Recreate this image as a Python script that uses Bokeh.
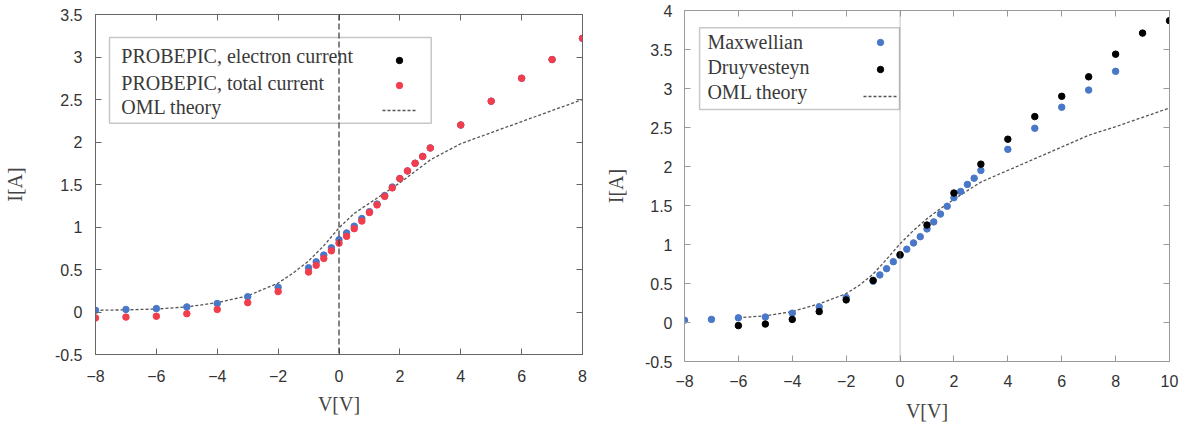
from bokeh.plotting import figure
from bokeh.models import (Range1d, FixedTicker, LinearAxis, Span, Label, BoxAnnotation,
                          Legend, LegendItem)
from bokeh.layouts import row
from bokeh.core.properties import value
from bokeh.embed import file_html
from bokeh.resources import INLINE

# ---------------- data: left panel (PROBEPIC) ----------------
left_v = [-8, -7, -6, -5, -4, -3, -2, -1, -0.75, -0.5, -0.25, 0, 0.25, 0.5, 0.75,
          1, 1.25, 1.5, 1.75, 2, 2.25, 2.5, 2.75, 3, 4, 5, 6, 7, 8]
left_electron = [0.02, 0.03, 0.04, 0.06, 0.10, 0.18, 0.29, 0.52, 0.59, 0.67, 0.755, 0.85, 0.93, 1.01, 1.10,
                 1.18, 1.27, 1.37, 1.47, 1.57, 1.66, 1.75, 1.83, 1.93, 2.20, 2.48, 2.75, 2.97, 3.22]
left_total = [-0.07, -0.06, -0.05, -0.02, 0.03, 0.11, 0.24, 0.47, 0.55, 0.63, 0.72, 0.81, 0.89, 0.98, 1.07,
              1.17, 1.26, 1.36, 1.46, 1.57, 1.66, 1.75, 1.83, 1.93, 2.20, 2.48, 2.75, 2.97, 3.22]
left_oml_v = [-8, -7, -6, -5, -4, -3, -2, -1.5, -1, -0.5, 0, 0.5, 1, 1.5, 2, 3, 4, 5, 6, 7, 8]
left_oml_i = [0.02, 0.025, 0.035, 0.06, 0.11, 0.19, 0.34, 0.46, 0.60, 0.78, 0.99, 1.16, 1.28, 1.40, 1.52,
              1.79, 1.98, 2.11, 2.24, 2.37, 2.50]

# ---------------- data: right panel (distributions) ----------------
maxw_v = [-8, -7, -6, -5, -4, -3, -2, -1, -0.75, -0.5, -0.25, 0, 0.25, 0.5, 0.75,
          1, 1.25, 1.5, 1.75, 2, 2.25, 2.5, 2.75, 3, 4, 5, 6, 7, 8]
maxw_i = [0.03, 0.04, 0.06, 0.07, 0.12, 0.20, 0.32, 0.53, 0.61, 0.69, 0.78, 0.86, 0.94, 1.02, 1.10,
          1.20, 1.29, 1.39, 1.49, 1.60, 1.68, 1.77, 1.85, 1.95, 2.22, 2.49, 2.76, 2.98, 3.22]
druy_v = [-6, -5, -4, -3, -2, -1, 0, 1, 2, 3, 4, 5, 6, 7, 8, 9, 10]
druy_i = [-0.04, -0.02, 0.04, 0.14, 0.29, 0.54, 0.87, 1.25, 1.66, 2.03, 2.35, 2.64, 2.90, 3.15, 3.44, 3.71, 3.87]
right_oml_v = [-6, -5, -4, -3, -2, -1.5, -1, -0.5, 0, 0.5, 1, 1.5, 2, 3, 4, 5, 6, 7, 8, 9, 10]
right_oml_i = [0.06, 0.086, 0.14, 0.24, 0.37, 0.48, 0.62, 0.81, 1.01, 1.18, 1.33, 1.46, 1.58, 1.80,
               1.95, 2.10, 2.25, 2.40, 2.51, 2.63, 2.75]

# ---------------- ticks and labels ----------------
left_x_ticks = [-8, -6, -4, -2, 0, 2, 4, 6, 8]
left_y_ticks = [-0.5, 0, 0.5, 1, 1.5, 2, 2.5, 3, 3.5]
left_y_labels = ["-0.5", "0", "0.5", "1", "1.5", "2", "2.5", "3", "3.5"]
right_x_ticks = [-8, -6, -4, -2, 0, 2, 4, 6, 8, 10]
right_y_ticks = [-0.5, 0, 0.5, 1, 1.5, 2, 2.5, 3, 3.5, 4]
right_y_labels = ["-0.5", "0", "0.5", "1", "1.5", "2", "2.5", "3", "3.5", "4"]

left_legend_labels = ["PROBEPIC, electron current", "PROBEPIC, total current", "OML theory"]
right_legend_labels = ["Maxwellian", "Druyvesteyn", "OML theory"]
x_title = "V[V]"
y_title = "I[A]"

BLUE = "#4a78c8"
RED = "#f23d4c"
BLACK = "#000000"
SERIF = "Liberation Serif"
SANS = "Liberation Sans"
TXT = "#3a3a3a"
NAN = float("nan")


def build(xr, yr, xticks, yticks, ylabels, w, h, bl, br, bt, bb, frame_color,
          xlab_standoff, ylab_standoff, xtitle_standoff, ytitle_standoff):
    p = figure(x_range=Range1d(*xr), y_range=Range1d(*yr), width=w, height=h,
               min_border_left=bl, min_border_right=br, min_border_top=bt, min_border_bottom=bb,
               output_backend="svg", toolbar_location=None,
               background_fill_color="white", border_fill_color="white")
    p.grid.visible = False
    p.outline_line_color = frame_color
    p.outline_line_width = 1

    xa = p.xaxis[0]
    xa.ticker = FixedTicker(ticks=xticks)
    ya = p.yaxis[0]
    ya.ticker = FixedTicker(ticks=yticks)
    ya.major_label_overrides = {t: s for t, s in zip(yticks, ylabels)}
    for ax in (xa, ya):
        ax.axis_line_color = frame_color
        ax.major_tick_line_color = frame_color
        ax.major_tick_in = 6
        ax.major_tick_out = 0
        ax.minor_tick_line_color = None
        ax.major_label_text_font = SANS
        ax.major_label_text_font_size = "16px"
        ax.major_label_text_color = "#333333"
        ax.axis_label_text_font = SERIF
        ax.axis_label_text_font_size = "20px"
        ax.axis_label_text_font_style = "normal"
        ax.axis_label_text_color = "#444444"
    xa.major_label_standoff = xlab_standoff
    ya.major_label_standoff = ylab_standoff
    xa.axis_label = x_title
    ya.axis_label = y_title
    xa.axis_label_standoff = xtitle_standoff
    ya.axis_label_standoff = ytitle_standoff

    # mirrored tick marks on the top and right sides
    for side, ticks in (("above", xticks), ("right", yticks)):
        ax = LinearAxis(ticker=FixedTicker(ticks=ticks), axis_line_color=frame_color,
                        major_tick_line_color=frame_color, major_tick_in=6, major_tick_out=0,
                        minor_tick_line_color=None, major_label_text_font_size="0px",
                        major_label_text_color=None, major_label_standoff=0)
        p.add_layout(ax, side)
    return p


def key_legend(renderers, vx, vy, pitch):
    return Legend(items=[LegendItem(label=value(""), renderers=[r]) for r in renderers],
                  location=(vx, vy), padding=0, margin=0, spacing=0, glyph_width=34,
                  glyph_height=16, label_height=pitch, label_width=0, label_standoff=0,
                  border_line_color=None, background_fill_alpha=0)


# ---------------- left panel ----------------
# same top/bottom borders as the right panel; shifted down by a 4px top margin
p1 = build((-8, 8), (-0.5, 3.5), left_x_ticks, left_y_ticks, left_y_labels,
           600, 414, 93, 18, 10, 64, "#666666", 15, 13, 8, 26)
p1.margin = (4, 0, 0, 0)
p1.add_layout(Span(location=0, dimension="height", line_color="#333333",
                   line_dash="6 3", line_width=1.2))
oml1 = p1.line(left_oml_v, left_oml_i, line_color="#555555", line_width=1.3, line_dash="3 2")
p1.scatter(left_v, left_electron, size=6.5, color=BLUE)
tot1 = p1.scatter(left_v, left_total, size=6.5, color=RED)
elec_key = p1.scatter(x=[NAN], y=[NAN], size=6.5, color=BLACK)

p1.add_layout(BoxAnnotation(left=-7.54, right=3.03, top=3.23, bottom=2.22, fill_alpha=0,
                            line_color="#444444", line_width=1.5))
for txt, yy in zip(left_legend_labels, [3.006, 2.70, 2.41]):
    p1.add_layout(Label(x=-7.15, y=yy, text=txt, text_baseline="middle", text_font=SERIF,
                        text_font_size="20px", text_color=TXT))
p1.add_layout(key_legend([elec_key, tot1, oml1], 287, 232, 25), "center")

# ---------------- right panel ----------------
p2 = build((-8, 10), (-0.5, 4), right_x_ticks, right_y_ticks, right_y_labels,
           589, 425, 84, 20, 10, 64, "#9a9a9a", 13, 12, 10, 15)
p2.add_layout(Span(location=0, dimension="height", line_color="#888888",
                   line_dash="1 1", line_width=1))
oml2 = p2.line(right_oml_v, right_oml_i, line_color="#555555", line_width=1.3, line_dash="3 2")
maxw = p2.scatter(maxw_v, maxw_i, size=6.5, color=BLUE)
druy = p2.scatter(druy_v, druy_i, size=6.5, color=BLACK)

p2.add_layout(BoxAnnotation(left=-7.44, right=-0.02, top=3.78, bottom=2.73, fill_alpha=0,
                            line_color="#444444", line_width=1.5))
for txt, yy in zip(right_legend_labels, [3.60, 3.27, 2.95]):
    p2.add_layout(Label(x=-7.15, y=yy, text=txt, text_baseline="middle", text_font=SERIF,
                        text_font_size="20px", text_color=TXT))
p2.add_layout(key_legend([maxw, druy, oml2], 179, 252, 27), "center")

layout = row(p1, p2)
open("out.html", "w").write(file_html(layout, INLINE))
